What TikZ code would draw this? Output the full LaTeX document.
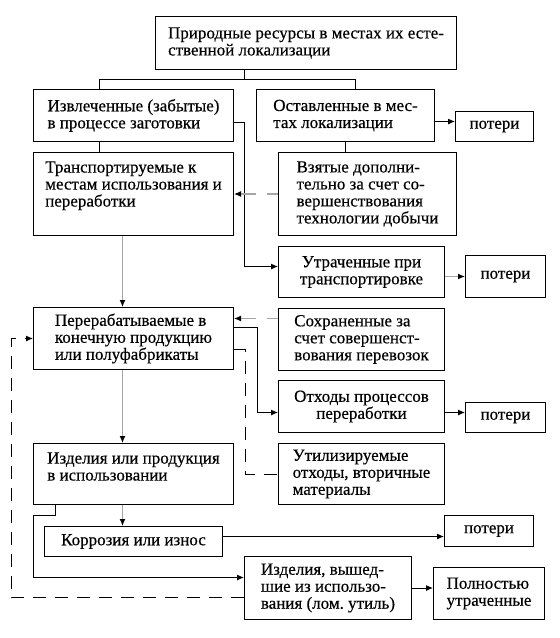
\documentclass[tikz,border=0pt]{standalone}
\usepackage{fontspec}
\setmainfont{Liberation Serif}[FakeBold=0.4]
\usetikzlibrary{arrows.meta}

\begin{document}
\begin{tikzpicture}[x=1pt,y=-1pt,
    box/.style={draw,line width=1pt,anchor=north west,align=left,inner sep=0pt,font=\fontsize{17}{17}\selectfont},
    cbox/.style={box,align=center},
    arr/.style={line width=1pt,-{Latex[length=7pt,width=6pt]}},
    garr/.style={line width=1.2pt,gray!70,-{Latex[length=7pt,width=6pt,black]}},
    gdash/.style={garr,dash pattern=on 11pt off 11pt on 40pt off 0pt},
    ldash/.style={line width=1pt,dash pattern=on 13pt off 9pt}]
    \useasboundingbox (0,0) rectangle (560,638);
    \node[box,minimum width=301pt,minimum height=53pt] (res) at (155,16) {Природные ресурсы в местах их есте-\\ственной локализации};
    \node[box,minimum width=200pt,minimum height=52pt] (izvl) at (33,89) {Извлеченные (забытые)\\в процессе заготовки};
    \node[box,minimum width=178pt,minimum height=52pt] (ostav) at (256,89) {Оставленные в мес-\\тах локализации};
    \node[cbox,minimum width=78pt,minimum height=30pt] (pot1) at (455,111) {потери};
    \node[box,minimum width=200pt,minimum height=83pt,text depth=20pt] (transp) at (33,152) {Транспортируемые к\\местам использования и\\переработки};
    \node[box,minimum width=178pt,minimum height=83pt] (vzyat) at (278,152) {Взятые дополни-\\тельно за счет со-\\вершенствования\\технологии добычи};
    \node[cbox,minimum width=166pt,minimum height=51pt] (utrach) at (278,246) {Утраченные при\\транспортировке};
    \node[cbox,minimum width=80pt,minimum height=42pt] (pot2) at (465,255) {потери};
    \node[box,minimum width=200pt,minimum height=62pt] (pererab) at (33,307) {Перерабатываемые в\\конечную продукцию\\или полуфабрикаты};
    \node[box,minimum width=166pt,minimum height=62pt] (sohr) at (278,308) {Сохраненные за\\счет совершенст-\\вования перевозок};
    \node[cbox,minimum width=166pt,minimum height=52pt] (othod) at (278,380) {Отходы процессов\\переработки};
    \node[cbox,minimum width=80pt,minimum height=30pt] (pot3) at (465,402) {потери};
    \node[box,minimum width=200pt,minimum height=61pt,text depth=15pt] (izdel) at (33,443) {Изделия или продукция\\в использовании};
    \node[box,minimum width=166pt,minimum height=61pt] (utiliz) at (278,443) {Утилизируемые\\отходы, вторичные\\материалы};
    \node[box,minimum width=178pt,minimum height=30pt] (korr) at (44,526) {Коррозия или износ};
    \node[cbox,minimum width=89pt,minimum height=31pt] (pot4) at (444,515) {потери};
    \node[box,minimum width=167pt,minimum height=63pt] (vysh) at (244,556) {Изделия, вышед-\\шие из использо-\\вания (лом.\ утиль)};
    \node[box,minimum width=111pt,minimum height=52pt] (poln) at (433,567) {Полностью\\утраченные};
    \coordinate (jm) at (244,79);
    \coordinate (jl) at (99,79);
    \coordinate (jr) at (355,79);
    \draw[line width=1pt] (res.south -| jm) -- (jm);
    \draw[line width=1pt] (izvl.north -| jl) -- (jl) -- (jr) -- (ostav.north -| jr);
    \draw[line width=1pt] (izvl.south -| jl) -- (transp.north -| jl);
    \draw[line width=1pt] (ostav.south) -- (ostav.south |- vzyat.north);
    \draw[arr] ([yshift=-6pt]ostav.east) -- ([yshift=-6pt]ostav.east -| pot1.west);
    \draw[arr] ([yshift=-7pt]izvl.east) -| ([yshift=5.5pt]utrach.west -| jm) -- ([yshift=5.5pt]utrach.west);
    \draw[gdash] (vzyat.west) -- (transp.east);
    \draw[garr] ([xshift=-11pt]transp.south) -- ([xshift=-11pt]pererab.north);
    \draw[garr] (utrach.east |- pot2.west) -- (pot2.west);
    \draw[gdash] ([yshift=21pt]sohr.west) -- ([yshift=21pt]sohr.west -| pererab.east);
    \draw[arr] ([yshift=11pt]pererab.east) -- ++(23,0) |- ([yshift=-6pt]othod.west);
    \draw[arr] ([yshift=-6pt]othod.east) -- ([yshift=-6pt]othod.east -| pot3.west);
    \draw[ldash] ([yshift=-11pt]pererab.east) -- ++(11,0) |- (utiliz.west);
    \draw[ldash,-{Latex[length=7pt,width=6pt]}] ([yshift=-9.5pt]vysh.west) -| ([xshift=-22pt]pererab.west) -- (pererab.west);
    \draw[garr] ([xshift=-11pt]pererab.south) -- ([xshift=-11pt]izdel.north);
    \draw[garr] ([xshift=-11pt]izdel.south) -- ([xshift=-11pt]izdel.south |- korr.north);
    \draw[arr] ([yshift=5pt]korr.east) -- ([yshift=5pt]korr.east -| pot4.west);
    \draw[arr] ([xshift=-78pt]izdel.south) |- ++(-22,10) |- ([yshift=10.5pt]vysh.west);
    \draw[arr] (vysh.east) -- (vysh.east -| poln.west);
\end{tikzpicture}
\end{document}
